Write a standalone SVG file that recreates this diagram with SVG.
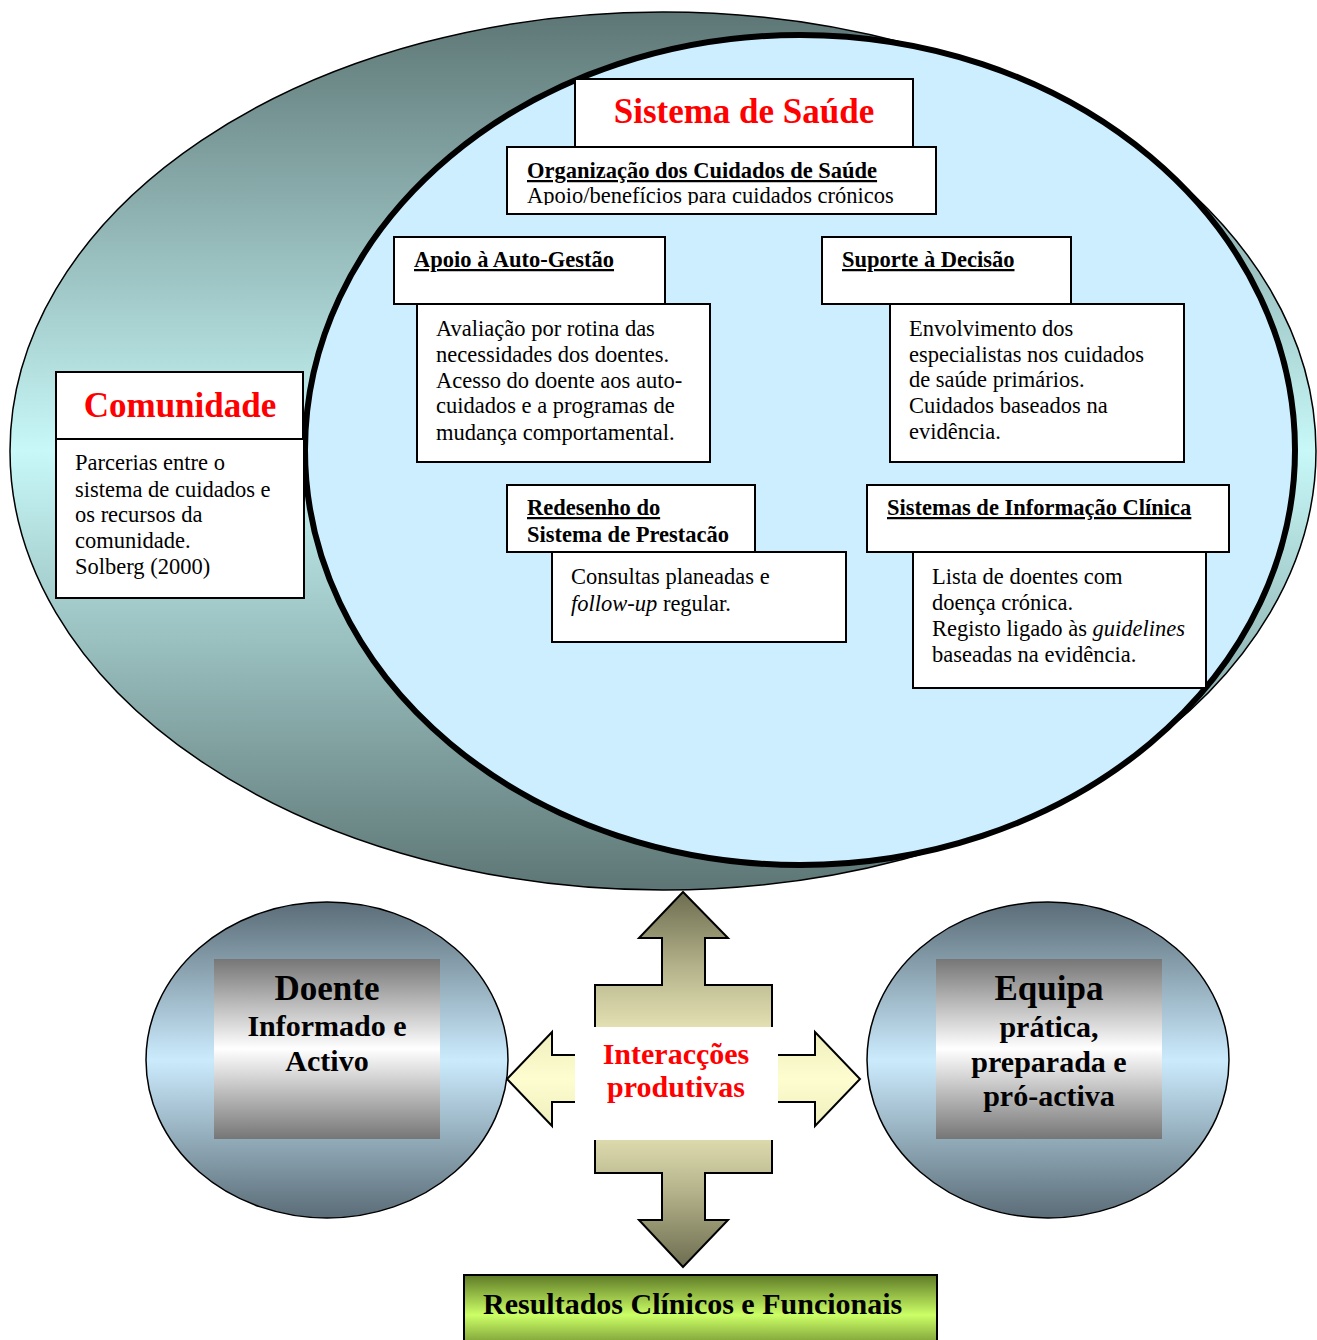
<svg xmlns="http://www.w3.org/2000/svg" width="1317" height="1340" viewBox="0 0 1317 1340">
  <defs>
    <linearGradient id="gCommunity" x1="0" y1="0" x2="0" y2="1">
      <stop offset="0" stop-color="#5d7675"/>
      <stop offset="0.5" stop-color="#c8f8f8"/>
      <stop offset="1" stop-color="#5d7675"/>
    </linearGradient>
    <linearGradient id="gOrb" x1="0" y1="0" x2="0" y2="1">
      <stop offset="0" stop-color="#5a6c77"/>
      <stop offset="0.5" stop-color="#cbebfd"/>
      <stop offset="1" stop-color="#5a6c77"/>
    </linearGradient>
    <linearGradient id="gSilver" x1="0" y1="0" x2="0" y2="1">
      <stop offset="0" stop-color="#767676"/>
      <stop offset="0.5" stop-color="#ffffff"/>
      <stop offset="1" stop-color="#767676"/>
    </linearGradient>
    <linearGradient id="gVert" x1="0" y1="0" x2="0" y2="1">
      <stop offset="0" stop-color="#6d6d50"/>
      <stop offset="0.2" stop-color="#b4b28a"/>
      <stop offset="0.4" stop-color="#eeecbc"/>
      <stop offset="0.5" stop-color="#fafad0"/>
      <stop offset="0.6" stop-color="#eeecbc"/>
      <stop offset="0.8" stop-color="#b4b28a"/>
      <stop offset="1" stop-color="#6d6d50"/>
    </linearGradient>
    <linearGradient id="gHoriz" x1="0" y1="0" x2="0" y2="1">
      <stop offset="0" stop-color="#efeebc"/>
      <stop offset="0.5" stop-color="#fdfdd0"/>
      <stop offset="1" stop-color="#efeebc"/>
    </linearGradient>
    <linearGradient id="gLime" x1="0" y1="0" x2="0" y2="1">
      <stop offset="0" stop-color="#5e7a26"/>
      <stop offset="0.5" stop-color="#ccff66"/>
      <stop offset="1" stop-color="#5e7a26"/>
    </linearGradient>
    <clipPath id="clipOrg">
      <rect x="507" y="147" width="429" height="58"/>
    </clipPath>
    <style>
      text { font-family: "Liberation Serif", "Times New Roman", serif; fill: #000; }
      .box { fill: #fff; stroke: #000; stroke-width: 2; }
      .head { font-size: 22.5px; font-weight: bold; text-decoration: underline; }
      .headplain { font-size: 22.5px; font-weight: bold; }
      .body { font-size: 22.5px; }
      .title { font-size: 35px; font-weight: bold; fill: #ff0000; text-anchor: middle; }
      .big { font-size: 35px; font-weight: bold; text-anchor: middle; }
      .mid { font-size: 30px; font-weight: bold; text-anchor: middle; }
      .it { font-style: italic; }
    </style>
  </defs>

  <!-- community ring and health-system ellipse -->
  <g id="community-ellipse">
    <ellipse cx="663" cy="451" rx="653" ry="439" fill="url(#gCommunity)" stroke="#000" stroke-width="1.5"/>
  </g>
  <g id="health-system-ellipse">
    <ellipse cx="800" cy="450" rx="495" ry="415" fill="#cceeff" stroke="#000" stroke-width="6"/>
  </g>

  <g id="sistema-de-saude">
    <rect class="box" x="575" y="79" width="338" height="68"/>
    <text class="title" x="744" y="123">Sistema de Saúde</text>
  </g>

  <g id="organizacao">
    <rect class="box" x="507" y="147" width="429" height="67"/>
    <g clip-path="url(#clipOrg)">
      <text class="head" x="527" y="178">Organização dos Cuidados de Saúde</text>
      <text class="body" x="527" y="203">Apoio/benefícios para cuidados crónicos</text>
    </g>
  </g>

  <g id="apoio-auto-gestao">
    <rect class="box" x="394" y="237" width="271" height="67"/>
    <text class="head" x="414" y="267">Apoio à Auto-Gestão</text>
    <rect class="box" x="417" y="304" width="293" height="158"/>
    <text class="body" x="436" y="336">Avaliação por rotina das</text>
    <text class="body" x="436" y="362">necessidades dos doentes.</text>
    <text class="body" x="436" y="388">Acesso do doente aos auto-</text>
    <text class="body" x="436" y="413">cuidados e a programas de</text>
    <text class="body" x="436" y="440">mudança comportamental.</text>
  </g>

  <g id="suporte-decisao">
    <rect class="box" x="822" y="237" width="249" height="67"/>
    <text class="head" x="842" y="267">Suporte à Decisão</text>
    <rect class="box" x="890" y="304" width="294" height="158"/>
    <text class="body" x="909" y="336">Envolvimento dos</text>
    <text class="body" x="909" y="362">especialistas nos cuidados</text>
    <text class="body" x="909" y="387">de saúde primários.</text>
    <text class="body" x="909" y="413">Cuidados baseados na</text>
    <text class="body" x="909" y="439">evidência.</text>
  </g>

  <g id="comunidade">
    <rect class="box" x="56" y="372" width="247" height="67"/>
    <text class="title" x="180" y="417">Comunidade</text>
    <rect class="box" x="56" y="439" width="248" height="159"/>
    <text class="body" x="75" y="470">Parcerias entre o</text>
    <text class="body" x="75" y="497">sistema de cuidados e</text>
    <text class="body" x="75" y="522">os recursos da</text>
    <text class="body" x="75" y="548">comunidade.</text>
    <text class="body" x="75" y="574">Solberg (2000)</text>
  </g>

  <g id="redesenho">
    <rect class="box" x="507" y="485" width="248" height="67"/>
    <text class="head" x="527" y="515">Redesenho do</text>
    <text class="headplain" x="527" y="542">Sistema de Prestacão</text>
    <rect class="box" x="552" y="552" width="294" height="90"/>
    <text class="body" x="571" y="584">Consultas planeadas e</text>
    <text class="body" x="571" y="611"><tspan class="it">follow-up</tspan> regular.</text>
  </g>

  <g id="sistemas-informacao">
    <rect class="box" x="867" y="485" width="362" height="67"/>
    <text class="head" x="887" y="515">Sistemas de Informação Clínica</text>
    <rect class="box" x="913" y="552" width="293" height="136"/>
    <text class="body" x="932" y="584">Lista de doentes com</text>
    <text class="body" x="932" y="610">doença crónica.</text>
    <text class="body" x="932" y="636">Registo ligado às <tspan class="it">guidelines</tspan></text>
    <text class="body" x="932" y="662">baseadas na evidência.</text>
  </g>

  <!-- interaction arrows -->
  <g id="connectors">
    <path d="M683,892 L728,938 L705,938 L705,985 L772,985 L772,1173 L705,1173 L705,1220 L728,1220 L683,1267 L639,1220 L662,1220 L662,1173 L595,1173 L595,985 L662,985 L662,938 L639,938 Z" fill="url(#gVert)" stroke="#000" stroke-width="2" stroke-linejoin="miter"/>
    <path d="M507,1079 L552,1032 L552,1055 L815,1055 L815,1032 L860,1079 L815,1126 L815,1102 L552,1102 L552,1126 Z" fill="url(#gHoriz)" stroke="#000" stroke-width="2"/>
  </g>

  <g id="interaccoes">
    <rect x="575" y="1027" width="203" height="113" fill="#fff"/>
    <text class="title" x="676" y="1064" style="font-size:30px">Interacções</text>
    <text class="title" x="676" y="1097" style="font-size:30px">produtivas</text>
  </g>

  <g id="doente">
    <ellipse cx="327" cy="1060" rx="181" ry="158" fill="url(#gOrb)" stroke="#000" stroke-width="1.5"/>
    <rect x="214" y="959" width="226" height="180" fill="url(#gSilver)"/>
    <text class="big" x="327" y="1000">Doente</text>
    <text class="mid" x="327" y="1036">Informado e</text>
    <text class="mid" x="327" y="1071">Activo</text>
  </g>

  <g id="equipa">
    <ellipse cx="1048" cy="1060" rx="181" ry="158" fill="url(#gOrb)" stroke="#000" stroke-width="1.5"/>
    <rect x="936" y="959" width="226" height="180" fill="url(#gSilver)"/>
    <text class="big" x="1049" y="1000">Equipa</text>
    <text class="mid" x="1049" y="1037">prática,</text>
    <text class="mid" x="1049" y="1072">preparada e</text>
    <text class="mid" x="1049" y="1106">pró-activa</text>
  </g>

  <g id="resultados">
    <rect x="464" y="1275" width="473" height="80" fill="url(#gLime)" stroke="#000" stroke-width="2"/>
    <text x="483" y="1314" style="font-size:30px;font-weight:bold">Resultados Clínicos e Funcionais</text>
  </g>
</svg>
